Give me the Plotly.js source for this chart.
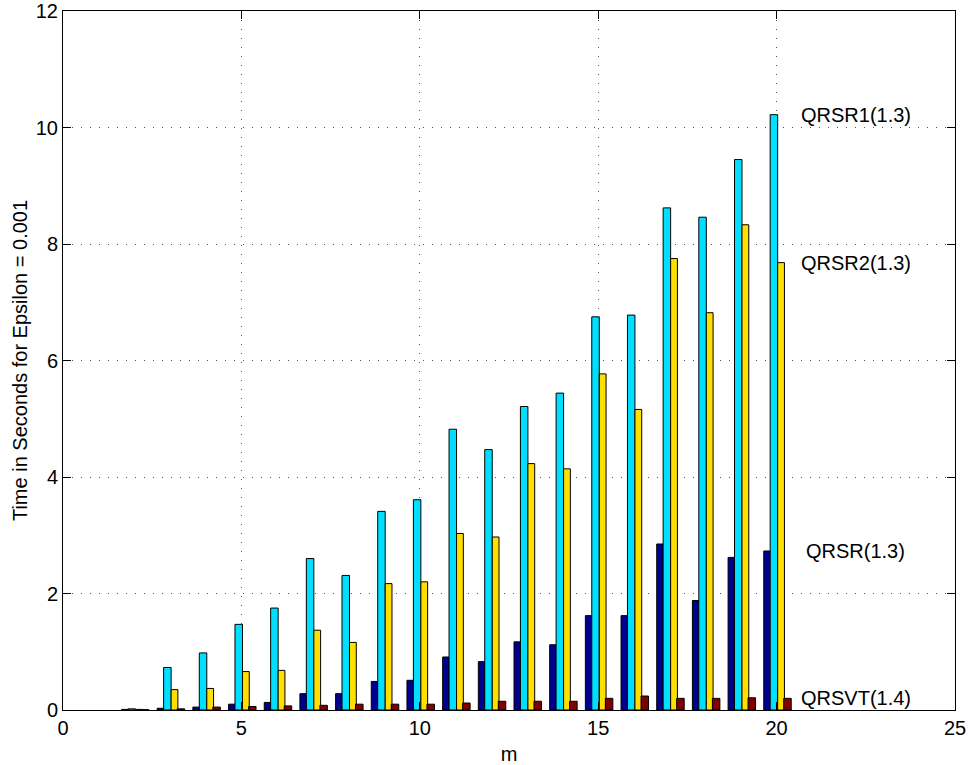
<!DOCTYPE html>
<html>
<head>
<meta charset="utf-8">
<script src="https://cdn.plot.ly/plotly-3.0.1.min.js"></script>
<style>
  html, body { margin: 0; padding: 0; background: #fff; }
  #chart { width: 968px; height: 765px; }
</style>
</head>
<body>
<div id="chart"></div>
<script>
// Problem sizes m
const m = [2, 3, 4, 5, 6, 7, 8, 9, 10, 11, 12, 13, 14, 15, 16, 17, 18, 19, 20];

// Run times in seconds (epsilon = 0.001)
const qrsr   = [0.01, 0.03, 0.05, 0.10, 0.13, 0.28, 0.28, 0.49, 0.51, 0.91, 0.83, 1.17, 1.12, 1.62, 1.62, 2.85, 1.88, 2.62, 2.73];
const qrsr1  = [0.02, 0.73, 0.98, 1.47, 1.75, 2.60, 2.31, 3.41, 3.61, 4.82, 4.47, 5.21, 5.44, 6.75, 6.78, 8.62, 8.46, 9.45, 10.22];
const qrsr2  = [0.01, 0.35, 0.37, 0.66, 0.68, 1.37, 1.16, 2.17, 2.20, 3.03, 2.97, 4.23, 4.14, 5.77, 5.16, 7.75, 6.82, 8.33, 7.68];
const qrsvt  = [0.005, 0.02, 0.05, 0.06, 0.07, 0.08, 0.10, 0.10, 0.10, 0.12, 0.15, 0.15, 0.15, 0.20, 0.24, 0.20, 0.20, 0.21, 0.20];

const seriesNames = ['QRSR(1.3)', 'QRSR1(1.3)', 'QRSR2(1.3)', 'QRSVT(1.4)'];
const seriesData  = [qrsr, qrsr1, qrsr2, qrsvt];
const seriesColor = ['#00008f', '#00dfff', '#ffdf00', '#800000'];
const barOffset   = [-0.36, -0.18, 0.03, 0.20];
const barWidth    = [0.18, 0.21, 0.19, 0.21];
// horizontal position of each series label
const labelX      = [20.78, 20.64, 20.64, 20.64];

const FONT = '"Liberation Sans", Arial, Helvetica, sans-serif';
const FS = 20;

const traces = seriesData.map((vals, i) => ({
  type: 'bar',
  name: seriesNames[i],
  x: m,
  y: vals,
  offset: barOffset[i],
  width: barWidth[i],
  marker: { color: seriesColor[i], line: { color: '#000', width: 1 } },
  hoverinfo: 'x+y+name'
}));

const annotations = seriesData.map((vals, i) => ({
  x: labelX[i],
  y: vals[vals.length - 1],
  xref: 'x', yref: 'y',
  text: seriesNames[i],
  showarrow: false,
  xanchor: 'left', yanchor: 'middle',
  font: { family: FONT, size: FS, color: '#000' }
}));

const axisCommon = {
  showline: true, linecolor: '#000', linewidth: 1,
  mirror: 'ticks', ticks: 'inside', ticklen: 8, tickwidth: 1, tickcolor: '#000',
  showgrid: true, gridcolor: '#555', gridwidth: 1, griddash: '1px,8px',
  zeroline: false,
  ticklabeloverflow: 'allow',
  tickfont: { family: FONT, size: FS, color: '#000' }
};

const layout = {
  width: 968, height: 765,
  margin: { l: 63, r: 13, t: 11, b: 55 },
  paper_bgcolor: '#fff', plot_bgcolor: '#fff',
  barmode: 'overlay',
  showlegend: false,
  font: { family: FONT, color: '#000' },
  xaxis: Object.assign({}, axisCommon, {
    range: [0, 25], tick0: 0, dtick: 5,
    title: { text: 'm', font: { family: FONT, size: FS, color: '#000' }, standoff: 8 }
  }),
  yaxis: Object.assign({}, axisCommon, {
    range: [0, 12], tick0: 0, dtick: 2,
    title: { text: 'Time in Seconds for Epsilon = 0.001', font: { family: FONT, size: FS, color: '#000' }, standoff: 2 }
  }),
  annotations: annotations
};

Plotly.newPlot('chart', traces, layout, { displayModeBar: false, staticPlot: true });
</script>
</body>
</html>
